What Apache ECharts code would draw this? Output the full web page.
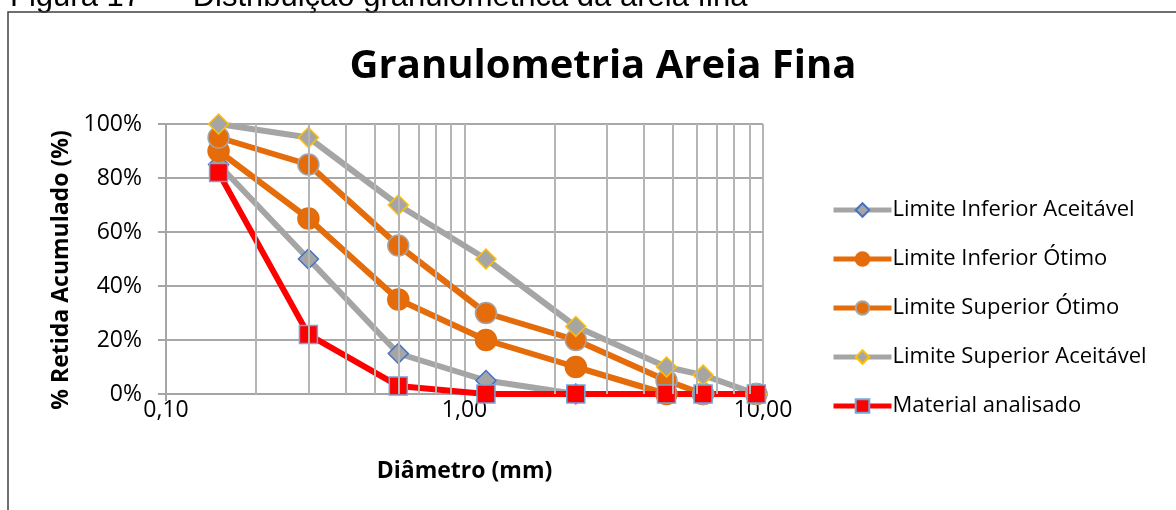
<!DOCTYPE html>
<html>
<head>
<meta charset="utf-8">
<style>
  html, body { margin: 0; padding: 0; background: #fff; }
  #chart { width: 1176px; height: 510px; }
</style>
<script src="https://cdn.jsdelivr.net/npm/echarts@6/dist/echarts.min.js"></script>
</head>
<body>
<div id="chart"></div>
<script>
// peneiras (mm)
const diametros = [0.15, 0.3, 0.6, 1.18, 2.36, 4.75, 6.3, 9.5];
// % retida acumulada
const limInfAceitavel = [85, 50, 15, 5, 0, 0, 0, 0];
const limInfOtimo = [90, 65, 35, 20, 10, 0, 0, 0];
const limSupOtimo = [95, 85, 55, 30, 20, 5, 0, 0];
const limSupAceitavel = [100, 95, 70, 50, 25, 10, 7, 0];
const materialAnalisado = [82, 22, 3, 0, 0, 0, 0, 0];
// linhas de grade secundarias do eixo log
const gradeSecundaria = [0.2, 0.3, 0.4, 0.5, 0.6, 0.7, 0.8, 0.9, 2, 3, 4, 5, 6, 7, 8, 9];

const fonte = "'Open Sans', sans-serif";
const cinza = "#a5a5a5";
const laranja = "#e46c0a";

function pares(vals) {
  return diametros.map((d, i) => [d, vals[i]]);
}

function serie(nome, vals, cor, symbol, size, fill, borda) {
  return {
    name: nome,
    type: "line",
    data: pares(vals),
    symbol: symbol,
    symbolSize: size,
    lineStyle: { color: cor, width: 6 },
    itemStyle: { color: fill, borderColor: borda, borderWidth: 1.5 },
    emphasis: { disabled: true },
    z: 3
  };
}

const chart = echarts.init(document.getElementById("chart"));
chart.setOption({
  animation: false,
  textStyle: { fontFamily: fonte },
  title: {
    text: "Granulometria Areia Fina",
    left: 598,
    top: 42,
    textAlign: "center",
    textStyle: { fontFamily: fonte, fontWeight: "bold", fontSize: 40, color: "#000" }
  },
  graphic: [
    {
      type: "text",
      left: 10,
      top: -18,
      style: {
        text: "Figura 17  –  Distribuição granulométrica da areia fina",
        font: "31px 'Liberation Sans', Arial, sans-serif",
        fill: "#000"
      }
    },
    {
      type: "rect",
      shape: { x: 8, y: 12, width: 1300, height: 600 },
      style: { fill: "none", stroke: "#404040", lineWidth: 1.5 },
      silent: true
    }
  ],
  legend: {
    orient: "vertical",
    left: 826,
    top: 194,
    itemWidth: 58,
    itemHeight: 17,
    itemGap: 27,
    lineStyle: { width: 5 },
    data: ["Limite Inferior Aceitável", "Limite Inferior Ótimo", "Limite Superior Ótimo",
           "Limite Superior Aceitável", "Material analisado"],
    textStyle: { fontFamily: fonte, fontSize: 22, color: "#000", padding: [0, 0, 0, -4] }
  },
  grid: { left: 166, top: 124, width: 597, height: 270 },
  xAxis: {
    type: "log",
    logBase: 10,
    min: 0.1,
    max: 10,
    name: "Diâmetro (mm)",
    nameLocation: "middle",
    nameGap: 66,
    nameTextStyle: { fontFamily: fonte, fontWeight: "bold", fontSize: 23, color: "#000" },
    axisLine: { lineStyle: { color: cinza, width: 2 } },
    axisTick: { show: true, length: 7, lineStyle: { color: cinza, width: 2 } },
    axisLabel: {
      fontSize: 23,
      color: "#000",
      margin: 5,
      formatter: v => Number(v).toFixed(2).replace(".", ",")
    },
    splitLine: { show: true, lineStyle: { color: "#b5b5b5", width: 2 } }
  },
  yAxis: {
    type: "value",
    min: 0,
    max: 100,
    interval: 20,
    name: "% Retida Acumulado (%)",
    nameLocation: "middle",
    nameGap: 92,
    nameTextStyle: {
      fontFamily: fonte, fontWeight: "bold", fontSize: 23, color: "#000",
      padding: [0, 22, 0, 0]
    },
    axisLine: { show: true, lineStyle: { color: cinza, width: 2 } },
    axisTick: { show: true, length: 8, lineStyle: { color: cinza, width: 2 } },
    axisLabel: { fontSize: 23, color: "#000", margin: 24, formatter: "{value}%" },
    splitLine: { show: true, lineStyle: { color: "#a8a8a8", width: 2 } }
  },
  series: [
    {
      name: "grade",
      type: "line",
      data: [],
      z: 1,
      silent: true,
      markLine: {
        silent: true,
        symbol: "none",
        label: { show: false },
        lineStyle: { color: "#b5b5b5", width: 2, type: "solid" },
        emphasis: { disabled: true },
        data: gradeSecundaria.map(v => ({ xAxis: v }))
      }
    },
    serie("Limite Inferior Aceitável", limInfAceitavel, cinza, "diamond", 20, cinza, "#4472c4"),
    serie("Limite Inferior Ótimo", limInfOtimo, laranja, "circle", 21, laranja, laranja),
    serie("Limite Superior Ótimo", limSupOtimo, laranja, "circle", 21, laranja, cinza),
    serie("Limite Superior Aceitável", limSupAceitavel, cinza, "diamond", 20, cinza, "#ffc000"),
    serie("Material analisado", materialAnalisado, "#ff0000", "rect", 18, "#ff0000", "#6fa8dc")
  ]
});
</script>
</body>
</html>
